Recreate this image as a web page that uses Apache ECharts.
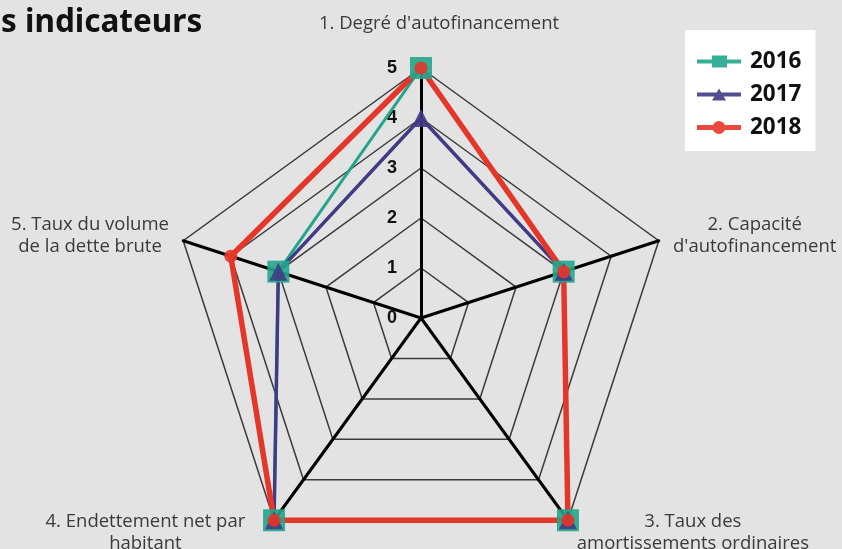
<!DOCTYPE html>
<html><head><meta charset="utf-8">
<script src="https://cdn.jsdelivr.net/npm/echarts@6/dist/echarts.min.js"></script>
<style>html,body{margin:0;padding:0;background:#e3e3e3}#c{width:842px;height:549px}</style>
</head><body><div id="c"></div>
<script>
const indicatorNames = ["1. Degré d'autofinancement", "2. Capacité\nd'autofinancement", "3. Taux des\namortissements ordinaires", "4. Endettement net par\nhabitant", "5. Taux du volume\nde la dette brute"];
const indicatorMax = 5;
const tickLabels = ['0', '1', '2', '3', '4', '5'];
const seriesNames = ['2016', '2017', '2018'];
const values2016 = [5, 3, 5, 5, 3];
const values2017 = [4, 3, 5, 5, 3];
const values2018 = [5, 3, 5, 5, 4];

// ECharts lays radar axes counter-clockwise; reference goes clockwise
const order = [0, 4, 3, 2, 1];
const richKeys = ['t', 'c', 'c', 'r', 'c'];   // by original index
const nameGaps = [33, 15, 15, 15, 15];
const reorder = arr => order.map(i => arr[i]);

const colors = ['#21a58b', '#3f3b84', '#e5362a'];
const FONT = 'Open Sans';
const NFS = 18.5, NLH = 22;

const chart = echarts.init(document.getElementById('c'));
chart.setOption({
  backgroundColor: '#e3e3e3',
  animation: false,
  title: {
    text: 's indicateurs', left: -4, top: 2,
    textStyle: { fontSize: 31.5, fontWeight: 'bold', color: '#111', fontFamily: 'Noto Sans' }
  },
  legend: {
    orient: 'vertical', left: 685, top: 30,
    backgroundColor: '#ffffff',
    padding: [20, 14, 12, 12],
    itemGap: 10, itemWidth: 44, itemHeight: 14,
    itemStyle: { borderWidth: 0 },
    textStyle: { fontSize: 22.5, fontWeight: 'bold', color: '#111', fontFamily: FONT, padding: [0, 0, 0, 4] },
    data: [
      { name: seriesNames[0], icon: 'path://M0,5H44V9H0Z M15,1H30V13H15Z' },
      { name: seriesNames[1], icon: 'path://M0,5H44V9H0Z M22,1L29,13H15Z' },
      { name: seriesNames[2], icon: 'path://M0,4.5H44V9.5H0Z M15.5,7A6.5,6.5 0 1 1 28.5,7A6.5,6.5 0 1 1 15.5,7Z' }
    ]
  },
  grid: { left: 405, top: 68, bottom: 231, width: 10 },
  xAxis: { type: 'value', show: false },
  yAxis: {
    type: 'value', min: 0, max: indicatorMax, interval: 1,
    axisLine: { show: false }, axisTick: { show: false }, splitLine: { show: false },
    axisLabel: {
      margin: 8, fontSize: 18, fontWeight: 'bold', color: '#111', fontFamily: 'Liberation Sans',
      formatter: v => tickLabels[v]
    }
  },
  radar: {
    center: [421, 318], radius: 250, startAngle: 90, splitNumber: 5, shape: 'polygon',
    indicator: order.map(i => ({ text: indicatorNames[i], min: 0, max: indicatorMax, nameGap: nameGaps[i], richKey: richKeys[i] })),
    axisName: {
      color: '#3a3a3a', fontFamily: FONT, fontSize: NFS, lineHeight: NLH,
      formatter: function (name, ind) {
        const k = (ind && ind.richKey) || 'c';
        return name.split('\n').map(l => '{' + k + '|' + l + '}').join('\n');
      },
      rich: {
        c: { align: 'center', color: '#3a3a3a', fontFamily: FONT, fontSize: NFS, lineHeight: NLH },
        t: { align: 'center', color: '#3a3a3a', fontFamily: FONT, fontSize: NFS, lineHeight: NLH, padding: [0, 0, 0, 36] },
        r: { align: 'center', color: '#3a3a3a', fontFamily: FONT, fontSize: NFS, lineHeight: NLH, padding: [0, 20, 0, 0] }
      }
    },
    axisLine: { lineStyle: { color: '#000', width: 3 } },
    splitLine: { lineStyle: { color: '#3a3a3a', width: 1.5 } },
    splitArea: { show: false },
    axisTick: { show: false },
    axisLabel: { show: false }
  },
  series: [{
    type: 'radar',
    data: [
      { name: seriesNames[0], value: reorder(values2016), symbol: 'rect', symbolSize: 22,
        lineStyle: { width: 3, color: colors[0] }, itemStyle: { color: colors[0], opacity: 0.9 } },
      { name: seriesNames[1], value: reorder(values2017), symbol: 'triangle', symbolSize: 18,
        lineStyle: { width: 3.5, color: colors[1] }, itemStyle: { color: colors[1], opacity: 0.9 } },
      { name: seriesNames[2], value: reorder(values2018), symbol: 'circle', symbolSize: 13,
        lineStyle: { width: 5.5, color: colors[2] }, itemStyle: { color: colors[2], opacity: 0.9 } }
    ]
  }]
});
</script></body></html>
